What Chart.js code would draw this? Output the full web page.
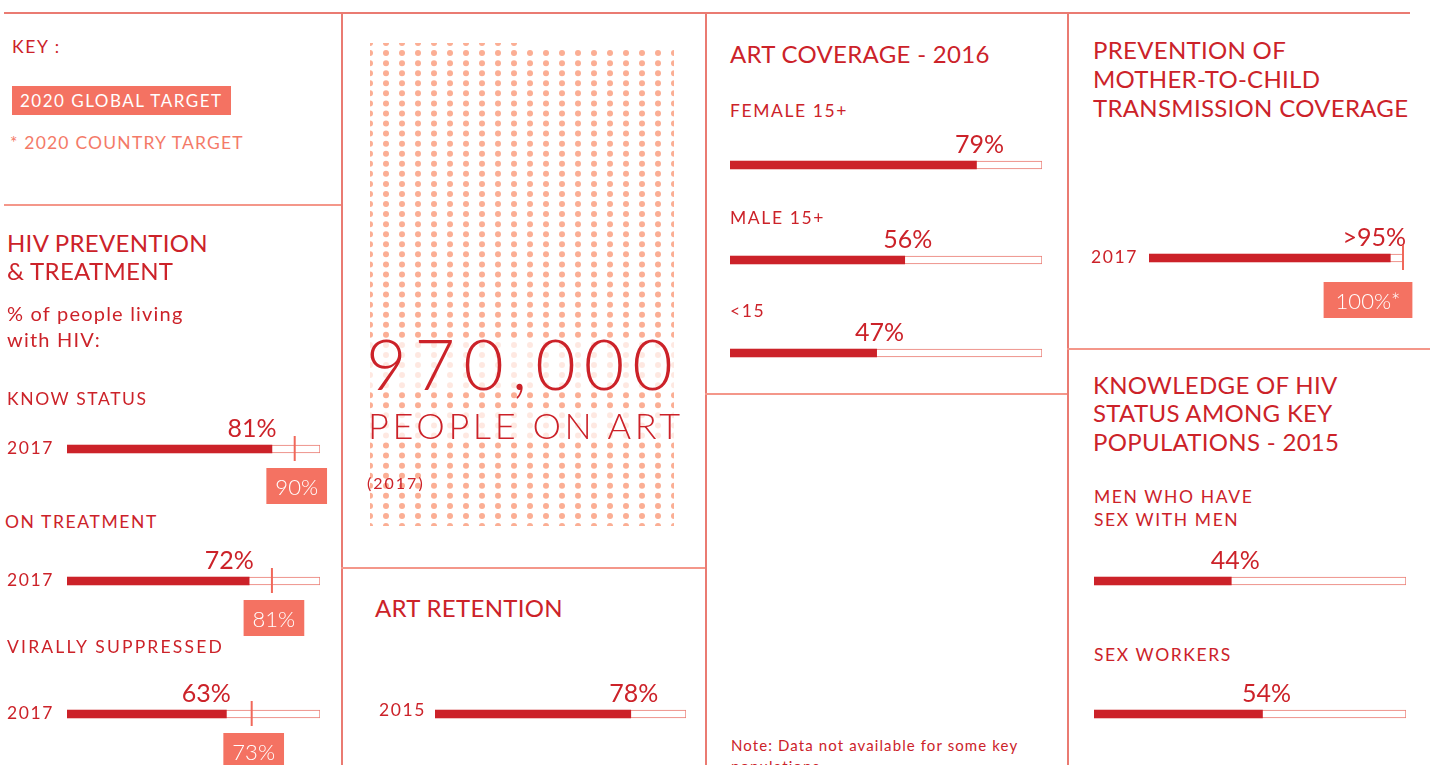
<!DOCTYPE html>
<html>
<head>
<meta charset="utf-8">
<script src="https://cdn.jsdelivr.net/npm/chart.js@4.4.0/dist/chart.umd.min.js"></script>
<style>
html, body { margin: 0; padding: 0; overflow: hidden; }
body { width: 1434px; height: 765px; position: relative; background: #fff; font-family: Lato, sans-serif; color: #cc2229; }
.t { position: absolute; white-space: nowrap; line-height: 1; z-index: 3; }
.h { font-size: 24px; letter-spacing: 0.3px; }
.s { font-size: 17.5px; letter-spacing: 1.6px; }
.ln { position: absolute; background: #ea7b72; z-index: 4; }
.key { position: absolute; background: #f47262; color: #fff; font-size: 17px; letter-spacing: 1.5px; line-height: 29px; padding-left: 8px; box-sizing: border-box; z-index: 3; }
.halo { position: absolute; background: rgba(255,255,255,0.72); z-index: 2; }
canvas { position: absolute; z-index: 1; }
</style>
</head>
<body>

<!-- grid lines -->
<div class="ln" style="left:4px;top:12px;width:1406px;height:1.5px"></div>
<div class="ln" style="left:341px;top:13px;width:1.5px;height:752px"></div>
<div class="ln" style="left:705px;top:13px;width:1.5px;height:752px"></div>
<div class="ln" style="left:1067px;top:13px;width:1.5px;height:752px"></div>
<div class="ln" style="left:4px;top:204px;width:337px;height:1.5px;background:#f4978a"></div>
<div class="ln" style="left:341px;top:567px;width:364px;height:1.5px;background:#f4978a"></div>
<div class="ln" style="left:705px;top:393px;width:362px;height:1.5px;background:#f4978a"></div>
<div class="ln" style="left:1067px;top:348px;width:363px;height:1.5px;background:#f4978a"></div>

<!-- key -->
<div class="t s" style="left:12px;top:38px">KEY :</div>
<div class="key" style="left:12px;top:86px;width:219px;height:29px">2020 GLOBAL TARGET</div>
<div class="t s" style="left:10px;top:134px;color:#f47a68;letter-spacing:1.2px">* 2020 COUNTRY TARGET</div>

<!-- cascade -->
<div class="t h" style="left:7px;top:231px">HIV PREVENTION</div>
<div class="t h" style="left:7px;top:259px">&amp; TREATMENT</div>
<div class="t" style="left:7px;top:303px;font-size:20px;letter-spacing:1.2px">% of people living</div>
<div class="t" style="left:7px;top:329px;font-size:20px;letter-spacing:1.2px">with HIV:</div>
<div class="t s" id="cl0" style="left:7px;top:390px"></div>
<div class="t s" id="cl1" style="left:5px;top:513px"></div>
<div class="t s" id="cl2" style="left:7px;top:638px;letter-spacing:2.2px"></div>
<div class="t s" id="cy0" style="left:7px;top:439px"></div>
<div class="t s" id="cy1" style="left:7px;top:571px"></div>
<div class="t s" id="cy2" style="left:7px;top:704px"></div>

<!-- people on ART -->
<div class="halo" style="left:364px;top:341px;width:314px;height:50px"></div>
<div class="t" id="bigNum" style="left:366px;top:328px;font-size:70px;font-weight:300;letter-spacing:8px"></div>
<div class="halo" style="left:366px;top:412px;width:316px;height:28px"></div>
<div class="t" style="left:368px;top:407px;font-size:36px;font-weight:300;letter-spacing:3.6px">PEOPLE ON ART</div>
<div class="t" id="bigYear" style="left:367px;top:475px;font-size:16px;letter-spacing:2px"></div>

<!-- retention -->
<div class="t h" style="left:375px;top:596px">ART RETENTION</div>
<div class="t s" id="retYear" style="left:379px;top:701px"></div>

<!-- coverage -->
<div class="t h" style="left:730px;top:42px">ART COVERAGE - 2016</div>
<div class="t s" id="cov0" style="left:730px;top:102px"></div>
<div class="t s" id="cov1" style="left:730px;top:209px"></div>
<div class="t s" id="cov2" style="left:730px;top:302px"></div>
<div class="t" style="left:731px;top:735px;font-size:15px;letter-spacing:1.1px;line-height:21px">Note: Data not available for some key<br>populations</div>

<!-- PMTCT -->
<div class="t h" style="left:1093px;top:38px">PREVENTION OF</div>
<div class="t h" style="left:1093px;top:67px">MOTHER-TO-CHILD</div>
<div class="t h" style="left:1093px;top:96px">TRANSMISSION COVERAGE</div>
<div class="t s" id="pmYear" style="left:1091px;top:248px"></div>

<!-- key populations -->
<div class="t h" style="left:1093px;top:373px">KNOWLEDGE OF HIV</div>
<div class="t h" style="left:1093px;top:401px">STATUS AMONG KEY</div>
<div class="t h" style="left:1093px;top:430px">POPULATIONS - 2015</div>
<div class="t s" id="kp0" style="left:1094px;top:485px;white-space:pre;line-height:23px"></div>
<div class="t s" id="kp1" style="left:1094px;top:646px"></div>

<script>
// data
const cascadeLabels = ['KNOW STATUS', 'ON TREATMENT', 'VIRALLY SUPPRESSED'];
const cascadeYears = ['2017', '2017', '2017'];
const cascadeValues = [81, 72, 63];
const cascadeTargets = [90, 81, 73];

const peopleOnArt = 970000;
const peoplePerDot = 1000;
const peopleOnArtYear = '2017';

const retentionYear = '2015';
const retentionValue = 78;

const coverageLabels = ['FEMALE 15+', 'MALE 15+', '<15'];
const coverageValues = [79, 56, 47];

const pmtctYear = '2017';
const pmtctValue = 95;
const pmtctTarget = 100;

const keyPopLabels = ['MEN WHO HAVE\nSEX WITH MEN', 'SEX WORKERS'];
const keyPopValues = [44, 54];

const RED = '#cc2229';
const LINE = '#ea7b72';
const BOX = '#f47262';
const DOT = '#fbae94';

// fill text labels
cascadeLabels.forEach((l, i) => document.getElementById('cl' + i).textContent = l);
cascadeYears.forEach((l, i) => document.getElementById('cy' + i).textContent = l);
coverageLabels.forEach((l, i) => document.getElementById('cov' + i).textContent = l);
keyPopLabels.forEach((l, i) => document.getElementById('kp' + i).textContent = l);
document.getElementById('bigNum').textContent = peopleOnArt.toLocaleString('en-US');
document.getElementById('bigYear').textContent = '(' + peopleOnArtYear + ')';
document.getElementById('retYear').textContent = retentionYear;
document.getElementById('pmYear').textContent = pmtctYear;

// value label, target tick and target box
const barDecor = {
    id: 'barDecor',
    afterDatasetsDraw(chart, args, o) {
        const ctx = chart.ctx;
        const xs = chart.scales.x;
        const bar = chart.getDatasetMeta(0).data[0];
        const top = bar.y - bar.height / 2;
        const bottom = bar.y + bar.height / 2;
        const value = chart.data.datasets[0].data[0];
        ctx.save();
        ctx.fillStyle = RED;
        ctx.font = '400 25px Lato';
        ctx.textAlign = 'center';
        ctx.textBaseline = 'alphabetic';
        ctx.fillText((o.prefix || '') + value + '%', xs.getPixelForValue(value) + (o.labelShift || 0), top - 8);

        if (o.target != null) {
            const tx = xs.getPixelForValue(o.target);
            ctx.strokeStyle = '#f0685a';
            ctx.lineWidth = 2;
            ctx.beginPath();
            ctx.moveTo(tx, top - 9);
            ctx.lineTo(tx, bottom + 8);
            ctx.stroke();

            const txt = o.target + '%' + (o.country ? '*' : '');
            ctx.font = '300 22px Lato';
            const w = ctx.measureText(txt).width + 2 * (o.pad || 9);
            const cx = tx + (o.boxShift || 0);
            const by = bottom + (o.boxGap || 15);
            ctx.fillStyle = BOX;
            ctx.fillRect(cx - w / 2, by, w, 36);
            ctx.fillStyle = '#fff';
            ctx.fillText(txt, cx, by + 27);
        }
        ctx.restore();
    }
};

function addCanvas(left, top, width, height) {
    const c = document.createElement('canvas');
    c.width = width;
    c.height = height;
    c.style.left = left + 'px';
    c.style.top = top + 'px';
    document.body.appendChild(c);
    return c;
}

// one progress bar, barX/barTop/barW = where the 0..100 track sits
function progressBar(barX, barTop, barW, value, decor) {
    const cv = addCanvas(barX - 20, barTop - 40, barW + 60, 105);
    return new Chart(cv, {
        type: 'bar',
        data: {
            labels: [''],
            datasets: [
                { data: [value], backgroundColor: RED, borderWidth: 0, barThickness: 8, grouped: false, order: 0 },
                { data: [100], backgroundColor: '#fff', borderColor: LINE, borderWidth: 1, borderSkipped: false, barThickness: 8, grouped: false, order: 1 }
            ]
        },
        options: {
            indexAxis: 'y',
            responsive: false,
            animation: false,
            events: [],
            layout: { padding: { left: 20, right: 40, top: 30, bottom: 47 } },
            scales: {
                x: { display: false, min: 0, max: 100 },
                y: { display: false }
            },
            plugins: { legend: { display: false }, tooltip: { enabled: false }, barDecor: decor }
        },
        plugins: [barDecor]
    });
}

// cascade
const cascadeTops = [445, 577, 710];
cascadeValues.forEach((v, i) => {
    progressBar(67, cascadeTops[i], 253, v, { target: cascadeTargets[i], labelShift: -20, boxShift: 2 });
});

// retention
progressBar(435, 710, 251, retentionValue, { labelShift: 3 });

// coverage
const coverageTops = [161, 256, 349];
coverageValues.forEach((v, i) => progressBar(730, coverageTops[i], 312, v, { labelShift: 3 }));

// pmtct
progressBar(1149, 254, 254, pmtctValue, { prefix: '>', labelShift: -16, target: pmtctTarget, country: true, boxShift: -35, boxGap: 20, pad: 12 });

// key populations
const keyPopTops = [577, 710];
keyPopValues.forEach((v, i) => progressBar(1094, keyPopTops[i], 312, v, { labelShift: 4 }));

// dot field: one dot per 1,000 people on ART
const dotCols = 20;
const dotCount = peopleOnArt / peoplePerDot;
const dots = [];
for (let i = 0; i < dotCount; i++) {
    dots.push({ x: i % dotCols, y: Math.floor(i / dotCols) });
}
const dotCanvas = addCanvas(362, 35, 320, 499);
new Chart(dotCanvas, {
    type: 'scatter',
    data: { datasets: [{ data: dots, backgroundColor: DOT, borderWidth: 0, pointRadius: 3 }] },
    options: {
        responsive: false,
        animation: false,
        events: [],
        layout: { padding: 8 },
        scales: {
            x: { display: false, min: 0, max: dotCols - 1 },
            y: { display: false, min: 0, max: Math.ceil(dotCount / dotCols) - 1 }
        },
        plugins: { legend: { display: false }, tooltip: { enabled: false } }
    }
});
</script>
</body>
</html>
